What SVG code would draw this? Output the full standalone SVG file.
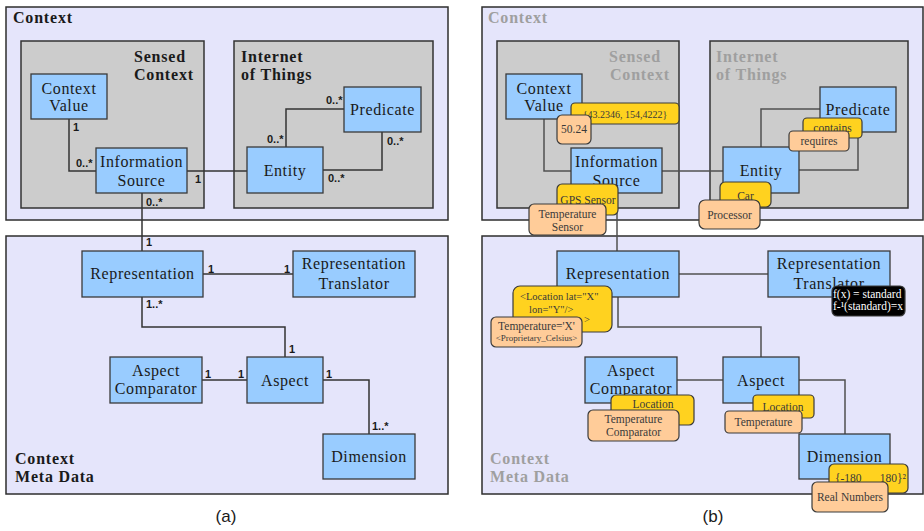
<svg xmlns="http://www.w3.org/2000/svg" width="924" height="531" viewBox="0 0 924 531">
  <style>
    .ctx { fill: #e5e5fb; stroke: #2e2e2e; stroke-width: 1.5; }
    .grp { fill: #cccccc; stroke: #333333; stroke-width: 1.5; }
    .cls { fill: #99ccff; stroke: #3a3a3a; stroke-width: 1.3; }
    .ttl { font-family: "Liberation Serif", "Times New Roman", serif; font-weight: bold; font-size: 16px; letter-spacing: 0.8px; fill: #1a1a1a; }
    .ttlg { font-family: "Liberation Serif", "Times New Roman", serif; font-weight: bold; font-size: 16px; letter-spacing: 0.8px; fill: #9f9f9f; }
    .lbl { font-family: "Liberation Serif", "Times New Roman", serif; font-size: 16px; letter-spacing: 0.6px; fill: #1a1a1a; text-anchor: middle; }
    .mul { font-family: "Liberation Sans", Arial, sans-serif; font-weight: bold; font-size: 11px; fill: #1a1a1a; }
    .con { fill: none; stroke: #333333; stroke-width: 1.5; }
    .cong { fill: none; stroke: #505050; stroke-width: 1.5; }
    .yel { fill: #ffd21f; stroke: #3a3a3a; stroke-width: 1.2; }
    .pch { fill: #ffcc99; stroke: #3a3a3a; stroke-width: 1.2; }
    .blk { fill: #000000; stroke: #3a3a3a; stroke-width: 1.2; }
    .ann { font-family: "Liberation Serif", "Times New Roman", serif; font-size: 11.5px; fill: #3a3a3a; text-anchor: middle; }
    .cap { font-family: "Liberation Sans", Arial, sans-serif; font-size: 17px; fill: #1a1a1a; text-anchor: middle; }
  </style>

  <rect x="0" y="0" width="924" height="531" fill="#ffffff"/>

  <!-- ===================== (a) plain model ===================== -->
  <g id="a-context">
    <rect class="ctx" x="6" y="7" width="442" height="213"/>
    <text class="ttl" x="13" y="23">Context</text>
  </g>
  <g id="a-sensed-context">
    <rect class="grp" x="21" y="41" width="183" height="167"/>
    <text class="ttl" x="134" y="62">Sensed</text>
    <text class="ttl" x="134" y="80">Context</text>
  </g>
  <g id="a-iot">
    <rect class="grp" x="234" y="41" width="199" height="167"/>
    <text class="ttl" x="241" y="62">Internet</text>
    <text class="ttl" x="241" y="80">of Things</text>
  </g>
  <g id="a-meta">
    <rect class="ctx" x="6" y="236" width="442" height="258"/>
    <text class="ttl" x="15" y="464">Context</text>
    <text class="ttl" x="15" y="482">Meta Data</text>
  </g>

  <g id="a-connectors">
    <polyline class="con" points="69,119 69,171 96,171"/>
    <line class="con" x1="187" y1="171" x2="247" y2="171"/>
    <polyline class="con" points="286,147 286,109 344,109"/>
    <polyline class="con" points="323,170 382,170 382,132"/>
    <line class="con" x1="142" y1="193" x2="142" y2="251"/>
    <line class="con" x1="203" y1="274" x2="293" y2="274"/>
    <polyline class="con" points="142,297 142,327 285,327 285,357"/>
    <line class="con" x1="202" y1="380" x2="247" y2="380"/>
    <polyline class="con" points="323,380 369,380 369,434"/>
    <text class="mul" x="73" y="131">1</text>
    <text class="mul" x="76" y="167">0..*</text>
    <text class="mul" x="195" y="183">1</text>
    <text class="mul" x="267" y="143">0..*</text>
    <text class="mul" x="326" y="104">0..*</text>
    <text class="mul" x="387" y="145">0..*</text>
    <text class="mul" x="328" y="182">0..*</text>
    <text class="mul" x="146" y="206">0..*</text>
    <text class="mul" x="146" y="246">1</text>
    <text class="mul" x="208" y="273">1</text>
    <text class="mul" x="284" y="273">1</text>
    <text class="mul" x="146" y="308">1..*</text>
    <text class="mul" x="289" y="353">1</text>
    <text class="mul" x="205" y="378">1</text>
    <text class="mul" x="238" y="378">1</text>
    <text class="mul" x="326" y="378">1</text>
    <text class="mul" x="372" y="430">1..*</text>
  </g>

  <g id="a-context-value">
    <rect class="cls" x="31" y="74" width="76" height="45"/>
    <text class="lbl" x="69" y="94">Context</text>
    <text class="lbl" x="69" y="111">Value</text>
  </g>
  <g id="a-information-source">
    <rect class="cls" x="96" y="148" width="91" height="45"/>
    <text class="lbl" x="141.5" y="167">Information</text>
    <text class="lbl" x="141.5" y="186">Source</text>
  </g>
  <g id="a-entity">
    <rect class="cls" x="247" y="147" width="76" height="46"/>
    <text class="lbl" x="285" y="176">Entity</text>
  </g>
  <g id="a-predicate">
    <rect class="cls" x="344" y="87" width="77" height="45"/>
    <text class="lbl" x="382.5" y="115">Predicate</text>
  </g>
  <g id="a-representation">
    <rect class="cls" x="82" y="251" width="121" height="46"/>
    <text class="lbl" x="142.5" y="279">Representation</text>
  </g>
  <g id="a-representation-translator">
    <rect class="cls" x="293" y="251" width="122" height="46"/>
    <text class="lbl" x="354" y="269">Representation</text>
    <text class="lbl" x="354" y="289">Translator</text>
  </g>
  <g id="a-aspect-comparator">
    <rect class="cls" x="110" y="357" width="92" height="46"/>
    <text class="lbl" x="156" y="376">Aspect</text>
    <text class="lbl" x="156" y="394">Comparator</text>
  </g>
  <g id="a-aspect">
    <rect class="cls" x="247" y="357" width="76" height="46"/>
    <text class="lbl" x="285" y="386">Aspect</text>
  </g>
  <g id="a-dimension">
    <rect class="cls" x="323" y="434" width="92" height="45"/>
    <text class="lbl" x="369" y="462">Dimension</text>
  </g>
  <text class="cap" x="226" y="522">(a)</text>

  <!-- ===================== (b) model with instances ===================== -->
  <g id="b-context">
    <rect class="ctx" x="482" y="7" width="441" height="213"/>
    <text class="ttlg" x="488" y="23">Context</text>
  </g>
  <g id="b-sensed-context">
    <rect class="grp" x="497" y="41" width="182" height="167"/>
    <text class="ttlg" x="609" y="62">Sensed</text>
    <text class="ttlg" x="610" y="80">Context</text>
  </g>
  <g id="b-iot">
    <rect class="grp" x="710" y="41" width="198" height="167"/>
    <text class="ttlg" x="716" y="62">Internet</text>
    <text class="ttlg" x="716" y="80">of Things</text>
  </g>
  <g id="b-meta">
    <rect class="ctx" x="482" y="236" width="441" height="258"/>
    <text class="ttlg" x="490" y="464">Context</text>
    <text class="ttlg" x="490" y="482">Meta Data</text>
  </g>

  <g id="b-connectors">
    <polyline class="cong" points="544,119 544,171 571,171"/>
    <line class="cong" x1="662" y1="171" x2="723" y2="171"/>
    <polyline class="cong" points="761,147 761,109 820,109"/>
    <polyline class="cong" points="799,170 858,170 858,132"/>
    <line class="cong" x1="617" y1="193" x2="617" y2="251"/>
    <line class="cong" x1="679" y1="274" x2="768" y2="274"/>
    <polyline class="cong" points="618,297 618,327 761,327 761,357"/>
    <line class="cong" x1="677" y1="380" x2="723" y2="380"/>
    <polyline class="cong" points="799,380 845,380 845,434"/>
  </g>

  <g id="b-context-value">
    <rect class="cls" x="506" y="74" width="76" height="45"/>
    <text class="lbl" x="544" y="94">Context</text>
    <text class="lbl" x="544" y="111">Value</text>
  </g>
  <g id="b-information-source">
    <rect class="cls" x="571" y="148" width="91" height="45"/>
    <text class="lbl" x="616.5" y="167">Information</text>
    <text class="lbl" x="616.5" y="186">Source</text>
  </g>
  <g id="b-entity">
    <rect class="cls" x="723" y="147" width="76" height="46"/>
    <text class="lbl" x="761" y="176">Entity</text>
  </g>
  <g id="b-predicate">
    <rect class="cls" x="820" y="87" width="76" height="45"/>
    <text class="lbl" x="858" y="115">Predicate</text>
  </g>
  <g id="b-representation">
    <rect class="cls" x="557" y="251" width="122" height="46"/>
    <text class="lbl" x="618" y="279">Representation</text>
  </g>
  <g id="b-representation-translator">
    <rect class="cls" x="768" y="251" width="122" height="46"/>
    <text class="lbl" x="829" y="269">Representation</text>
    <text class="lbl" x="829" y="289">Translator</text>
  </g>
  <g id="b-aspect-comparator">
    <rect class="cls" x="585" y="357" width="92" height="46"/>
    <text class="lbl" x="631" y="376">Aspect</text>
    <text class="lbl" x="631" y="394">Comparator</text>
  </g>
  <g id="b-aspect">
    <rect class="cls" x="723" y="357" width="76" height="46"/>
    <text class="lbl" x="761" y="386">Aspect</text>
  </g>
  <g id="b-dimension">
    <rect class="cls" x="799" y="434" width="91" height="45"/>
    <text class="lbl" x="844.5" y="462">Dimension</text>
  </g>

  <!-- instance tags: yellow = location example, peach = temperature example -->
  <g id="b-tag-coords">
    <rect class="yel" x="571" y="103" width="108" height="21" rx="4"/>
    <text class="ann" x="625" y="118" style="font-size:10px">{43.2346, 154,4222}</text>
  </g>
  <g id="b-tag-value">
    <rect class="pch" x="557" y="115" width="34" height="29" rx="5"/>
    <text class="ann" x="574" y="133">50.24</text>
  </g>
  <g id="b-tag-gps">
    <rect class="yel" x="557" y="184" width="61" height="31" rx="5"/>
    <text class="ann" x="588" y="204">GPS Sensor</text>
  </g>
  <g id="b-tag-temp-sensor">
    <rect class="pch" x="529" y="204" width="77" height="31" rx="5"/>
    <text class="ann" x="567.5" y="218">Temperature</text>
    <text class="ann" x="567.5" y="231">Sensor</text>
  </g>
  <g id="b-tag-contains">
    <rect class="yel" x="803" y="118" width="59" height="20" rx="4"/>
    <text class="ann" x="832.5" y="132">contains</text>
  </g>
  <g id="b-tag-requires">
    <rect class="pch" x="789" y="131" width="60" height="20" rx="4"/>
    <text class="ann" x="819" y="145">requires</text>
  </g>
  <g id="b-tag-car">
    <rect class="yel" x="720" y="182" width="51" height="25" rx="5"/>
    <text class="ann" x="745.5" y="200">Car</text>
  </g>
  <g id="b-tag-processor">
    <rect class="pch" x="699" y="200" width="61" height="29" rx="6"/>
    <text class="ann" x="729.5" y="219">Processor</text>
  </g>
  <g id="b-tag-location-xml">
    <rect class="yel" x="513" y="286" width="99" height="46" rx="7"/>
    <text class="ann" x="520" y="300" style="text-anchor:start;font-size:10.5px">&lt;Location lat="X"</text>
    <text class="ann" x="529" y="313" style="text-anchor:start;font-size:10.5px">lon="Y"/&gt;</text>
    <text class="ann" x="584" y="323" style="text-anchor:start;font-size:10.5px">&gt;</text>
  </g>
  <g id="b-tag-temperature-xml">
    <rect class="pch" x="491" y="317" width="91" height="30" rx="5"/>
    <text class="ann" x="536.5" y="330">Temperature='X'</text>
    <text class="ann" x="536.5" y="341" style="font-size:9px">&lt;Proprietary_Celsius&gt;</text>
  </g>
  <g id="b-tag-translation">
    <rect class="blk" x="832" y="286" width="73" height="30" rx="5"/>
    <text class="ann" x="833" y="298" style="text-anchor:start;fill:#ffffff">f(x) = standard</text>
    <text class="ann" x="833" y="310" style="text-anchor:start;fill:#ffffff">f-¹(standard)=x</text>
  </g>
  <g id="b-tag-cmp-location">
    <rect class="yel" x="611" y="395" width="83" height="30" rx="5"/>
    <text class="ann" x="653" y="408">Location</text>
  </g>
  <g id="b-tag-cmp-temperature">
    <rect class="pch" x="588" y="410" width="91" height="31" rx="5"/>
    <text class="ann" x="633.5" y="423">Temperature</text>
    <text class="ann" x="633.5" y="436">Comparator</text>
  </g>
  <g id="b-tag-aspect-location">
    <rect class="yel" x="753" y="395" width="61" height="23" rx="4"/>
    <text class="ann" x="783" y="411">Location</text>
  </g>
  <g id="b-tag-aspect-temperature">
    <rect class="pch" x="725" y="411" width="77" height="22" rx="4"/>
    <text class="ann" x="763.5" y="426">Temperature</text>
  </g>
  <g id="b-tag-range">
    <rect class="yel" x="829" y="464" width="79" height="29" rx="5"/>
    <text class="ann" x="835" y="482" style="text-anchor:start">{-180</text>
    <text class="ann" x="906" y="482" style="text-anchor:end">180}²</text>
  </g>
  <g id="b-tag-real">
    <rect class="pch" x="812" y="482" width="76" height="30" rx="5"/>
    <text class="ann" x="850" y="501">Real Numbers</text>
  </g>
  <text class="cap" x="713" y="522">(b)</text>
</svg>
